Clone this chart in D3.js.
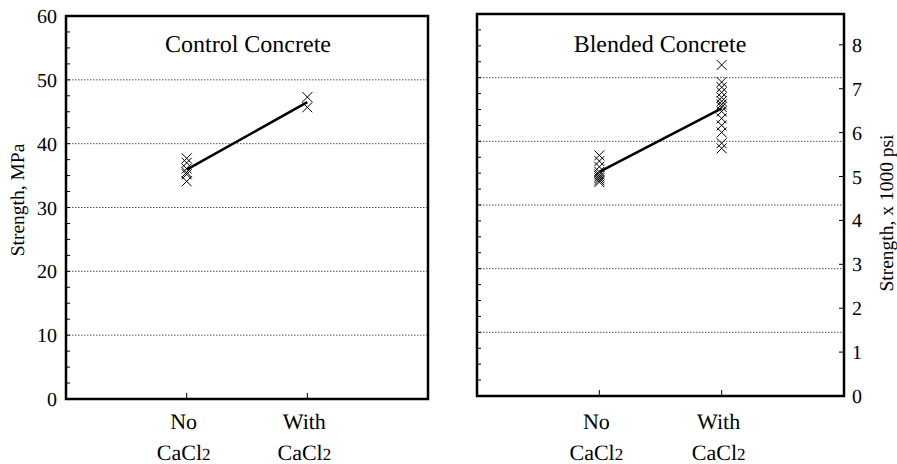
<!DOCTYPE html>
<html>
<head>
<meta charset="utf-8">
<script src="https://cdn.jsdelivr.net/npm/d3@7"></script>
<style>
  html, body { margin: 0; padding: 0; background: #fff; }
  svg { display: block; }
  svg text { font-family: "Times New Roman", "Liberation Serif", Times, serif; fill: #000; text-rendering: geometricPrecision; }
</style>
</head>
<body>
<svg id="chart" width="897" height="464"></svg>
<script>
// Compressive strength (MPa) of individual specimens
const categories = ["No", "With"];
const panelTitles = ["Control Concrete", "Blended Concrete"];
const controlNo   = [37.7, 37.0, 36.1, 35.5, 35.2, 34.1];
const controlWith = [47.3, 45.7];
const blendedNo   = [37.8, 36.9, 36.0, 35.2, 34.8, 34.5, 34.2, 33.9, 33.6];
const blendedWith = [52.0, 49.3, 48.5, 47.7, 46.9, 46.3, 45.8, 45.4, 44.7, 43.6, 42.5, 41.4, 39.7, 38.9];
const mpaTicks = [0, 10, 20, 30, 40, 50, 60];
const psiTicks = [0, 1, 2, 3, 4, 5, 6, 7, 8];
const MPA_PER_KSI = 6.894757;

const svg = d3.select("#chart");

const panels = [
  { title: panelTitles[0], series: [controlNo, controlWith], x0: 66, x1: 428, yTop: 16, yBot: 399, titleX: 248 },
  { title: panelTitles[1], series: [blendedNo, blendedWith], x0: 477, x1: 844, yTop: 14, yBot: 396, titleX: 660 }
];

panels.forEach((p, pi) => {
  const g = svg.append("g");
  const x = d3.scalePoint().domain(["", ...categories, " "]).range([p.x0, p.x1]);
  const y = d3.scaleLinear().domain([0, 60]).range([p.yBot, p.yTop]);

  // dotted gridlines
  g.selectAll("line.grid").data(mpaTicks.filter(t => t > 0 && t < 60)).join("line")
    .attr("x1", p.x0).attr("x2", p.x1)
    .attr("y1", d => y(d)).attr("y2", d => y(d))
    .attr("stroke", "#555").attr("stroke-width", 1).attr("stroke-dasharray", "1.5,1.5");

  // inner minor ticks on the left edge
  g.selectAll("line.minor").data(d3.range(0, 60.01, 2.5)).join("line")
    .attr("x1", p.x0).attr("x2", p.x0 + 4)
    .attr("y1", d => y(d)).attr("y2", d => y(d))
    .attr("stroke", "#000").attr("stroke-width", 1);

  // category ticks on the bottom edge
  g.selectAll("line.xt").data(categories).join("line")
    .attr("x1", d => x(d)).attr("x2", d => x(d))
    .attr("y1", p.yBot).attr("y2", p.yBot - 6)
    .attr("stroke", "#000").attr("stroke-width", 1);

  // frame
  g.append("rect")
    .attr("x", p.x0).attr("y", p.yTop)
    .attr("width", p.x1 - p.x0).attr("height", p.yBot - p.yTop)
    .attr("fill", "none").attr("stroke", "#000").attr("stroke-width", 2.5);

  // title
  g.append("text").attr("x", p.titleX).attr("y", 52)
    .attr("text-anchor", "middle").attr("font-size", 24).text(p.title);

  // mean line
  const means = p.series.map(s => d3.mean(s));
  g.append("path")
    .datum(categories.map((c, i) => [x(c), y(means[i])]))
    .attr("d", d3.line())
    .attr("fill", "none").attr("stroke", "#000").attr("stroke-width", 2.5);

  // individual specimens as X markers
  const s = 5;
  categories.forEach((c, i) => {
    g.selectAll(null).data(p.series[i]).join("path")
      .attr("d", d => {
        const cx = x(c), cy = y(d);
        return `M${cx - s},${cy - s}L${cx + s},${cy + s}M${cx - s},${cy + s}L${cx + s},${cy - s}`;
      })
      .attr("stroke", "#000").attr("stroke-width", 1).attr("fill", "none");
  });

  // category labels
  categories.forEach(c => {
    g.append("text").attr("x", x(c) - 3).attr("y", 429)
      .attr("text-anchor", "middle").attr("font-size", 22).text(c);
    const t = g.append("text").attr("x", x(c) - 3).attr("y", 460)
      .attr("text-anchor", "middle").attr("font-size", 22);
    t.append("tspan").text("CaCl");
    t.append("tspan").attr("font-size", 17).text("2");
  });

  if (pi === 0) {
    // MPa axis labels
    g.selectAll("text.yl").data(mpaTicks).join("text")
      .attr("x", 57).attr("y", d => y(d) + 7)
      .attr("text-anchor", "end").attr("font-size", 20).text(d => d);
    g.append("text")
      .attr("transform", `translate(24,200) rotate(-90)`)
      .attr("text-anchor", "middle").attr("font-size", 19.5).text("Strength, MPa");
  } else {
    // psi axis on the right edge
    const yk = d3.scaleLinear().domain([0, 60 / MPA_PER_KSI]).range([p.yBot, p.yTop]);
    g.selectAll("line.pt").data(psiTicks).join("line")
      .attr("x1", p.x1).attr("x2", p.x1 - 5)
      .attr("y1", d => yk(d)).attr("y2", d => yk(d))
      .attr("stroke", "#000").attr("stroke-width", 1);
    g.selectAll("text.pl").data(psiTicks).join("text")
      .attr("x", p.x1 + 8).attr("y", d => yk(d) + 7)
      .attr("text-anchor", "start").attr("font-size", 20).text(d => d);
    g.append("text")
      .attr("transform", `translate(893,213) rotate(-90)`)
      .attr("text-anchor", "middle").attr("font-size", 19.5).text("Strength, x 1000 psi");
  }
});
</script>
</body>
</html>
